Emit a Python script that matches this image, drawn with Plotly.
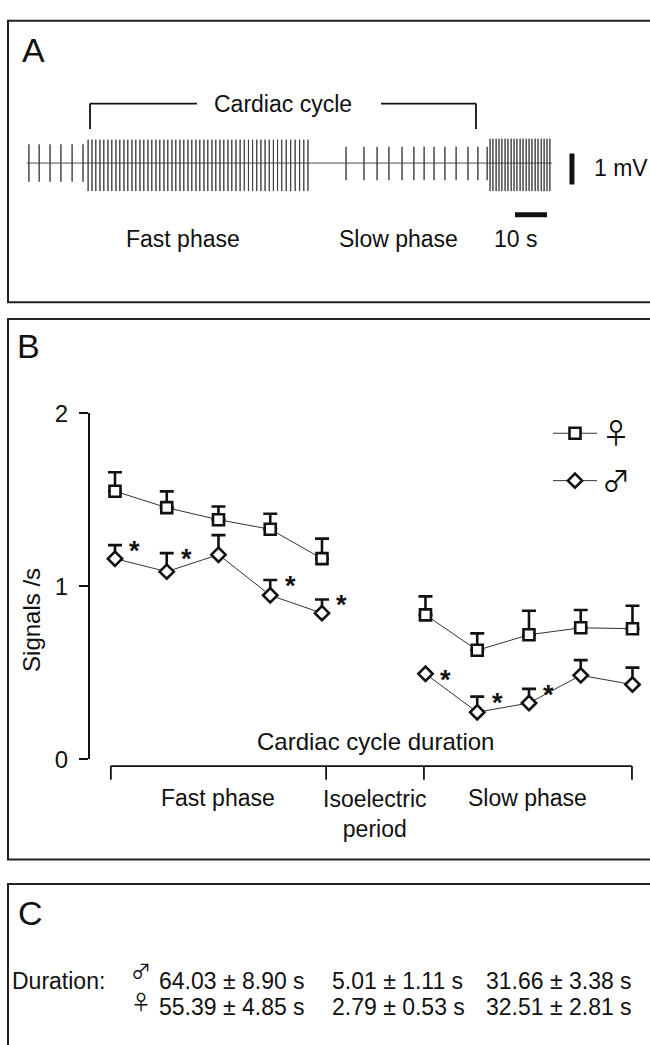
import plotly.graph_objects as go

W, H = 650, 1045
FONT = "Liberation Sans, Arial, Helvetica, sans-serif"
SYM_FONT = "Noto Sans CJK JP, DejaVu Sans"
INK = "#111111"

# ---------------- Panel A: ECG recording (time in s, amplitude in mV) ----------------
pre_beats_t = [0.6, 3.8, 7.2, 10.6, 14.1, 17.5]
fast_beats_t = [19.1, 20.3, 21.5, 22.8, 24.0, 25.3, 26.5, 27.8, 29.0, 30.3, 31.5, 32.8,
                34.0, 35.3, 36.5, 37.8, 39.0, 40.3, 41.5, 42.8, 44.0, 45.3, 46.5, 47.8,
                49.0, 50.3, 51.5, 52.8, 54.0, 55.3, 56.5, 57.8, 59.0, 60.3, 61.5, 62.8,
                64.0, 65.3, 66.6, 67.9, 69.2, 70.5, 71.8, 73.1, 74.4, 75.7, 77.0, 78.3,
                79.6, 81.0, 82.4, 83.8, 85.2, 86.5, 87.8]
slow_beats_t = [99.7, 105.3, 109.4, 113.1, 117.2, 120.9, 124.1, 127.2, 130.6, 134.1,
                137.8, 140.9, 143.8]
next_fast_beats_t = [144.7, 145.6, 146.6, 147.5, 148.4, 149.4, 150.3, 151.3, 152.2, 153.1,
                     154.1, 155.0, 156.0, 156.9, 157.8, 158.8, 159.7, 160.7, 161.6, 162.5,
                     163.4]
segment_peak_mv = [0.60, 0.75, 0.52, 0.78]
segment_trough_mv = [-0.60, -0.90, -0.55, -0.90]
record_end_t = 164.1
cycle_start_t, cycle_end_t = 19.7, 140.3
SCALE_MV = 1.0
SCALE_S = 10.0

# ---------------- Panel B: signals per second ----------------
fast_pos = [0, 1, 2, 3, 4]
slow_pos = [6, 7, 8, 9, 10]
female_fast = [1.55, 1.455, 1.385, 1.33, 1.16]
female_fast_err = [0.11, 0.094, 0.077, 0.09, 0.116]
female_slow = [0.835, 0.63, 0.72, 0.76, 0.755]
female_slow_err = [0.107, 0.098, 0.139, 0.103, 0.133]
male_fast = [1.16, 1.085, 1.183, 0.948, 0.845]
male_fast_err = [0.078, 0.107, 0.113, 0.089, 0.079]
male_slow = [0.494, 0.272, 0.325, 0.485, 0.432]
male_slow_err = [0.0, 0.09, 0.082, 0.088, 0.098]
male_fast_sig = [True, True, False, True, True]
male_slow_sig = [True, True, True, False, False]
phase_names = ["Fast phase", "Isoelectric<br>period", "Slow phase"]
phase_bounds = [-0.08, 4.08, 5.97, 9.99]
y_ticks = [0, 1, 2]

# ---------------- Panel C: durations (s) ----------------
male_dur_mean = [64.03, 5.01, 31.66]
male_dur_sd = [8.90, 1.11, 3.38]
female_dur_mean = [55.39, 2.79, 32.51]
female_dur_sd = [4.85, 0.53, 2.81]


def px(x):
    return x / W


def py(y):
    return 1 - y / H


fig = go.Figure()

# ECG trace
ecg_x, ecg_y = [0.0], [0.0]
for times, up, dn in zip([pre_beats_t, fast_beats_t, slow_beats_t, next_fast_beats_t],
                         segment_peak_mv, segment_trough_mv):
    for t in times:
        ecg_x += [t, t, t, t]
        ecg_y += [0.0, up, dn, 0.0]
ecg_x.append(record_end_t)
ecg_y.append(0.0)
fig.add_trace(go.Scatter(x=ecg_x, y=ecg_y, mode="lines", xaxis="x2", yaxis="y2",
                         line=dict(color="#3a3a3a", width=0.9), showlegend=False,
                         hoverinfo="skip"))


# Panel B traces
def series(xs, ys, errs, symbol, size, name, show):
    return go.Scatter(
        x=xs, y=ys, mode="lines+markers", name=name, legendgroup=name, showlegend=show,
        line=dict(color="#333333", width=1),
        marker=dict(symbol=symbol, size=size, color="white", line=dict(color=INK, width=2.6)),
        error_y=dict(type="data", symmetric=False, array=errs, arrayminus=[0] * len(errs),
                     color=INK, thickness=2.6, width=7),
        cliponaxis=False,
    )


fig.add_trace(series(fast_pos, female_fast, female_fast_err, "square", 11, "♀", True))
fig.add_trace(series(slow_pos, female_slow, female_slow_err, "square", 11, "♀", False))
fig.add_trace(series(fast_pos, male_fast, male_fast_err, "diamond", 11, "♂", True))
fig.add_trace(series(slow_pos, male_slow, male_slow_err, "diamond", 11, "♂", False))

annotations = []


def txt(x, y, text, size=23, xanchor="center", yanchor="middle", xref="paper", yref="paper",
        family=FONT, **kw):
    annotations.append(dict(x=x, y=y, text=text, xref=xref, yref=yref, showarrow=False,
                            xanchor=xanchor, yanchor=yanchor,
                            font=dict(family=family, size=size, color=INK), **kw))


# significance asterisks
for xs, ys, errs, sig in [(fast_pos, male_fast, male_fast_err, male_fast_sig),
                          (slow_pos, male_slow, male_slow_err, male_slow_sig)]:
    for x, y, e, s in zip(xs, ys, errs, sig):
        if s:
            txt(x, y + e, "<b>*</b>", size=27, xref="x", yref="y", xshift=20, yshift=-6)

# Panel letters
txt(px(20), py(37), "A", size=34, xanchor="left")
txt(px(15), py(341), "B", size=34, xanchor="left")
txt(px(16), py(923), "C", size=34, xanchor="left")

# Panel A labels
txt((cycle_start_t + cycle_end_t) / 2, py(92), "Cardiac cycle", xref="x2")
txt(px(183), py(231), "Fast phase")
txt(px(398), py(231), "Slow phase")
txt(record_end_t - 12.5 + 0.9, py(231), f"{SCALE_S:g} s", xref="x2")
txt(px(592), py(158), f"{SCALE_MV:g} mV", xanchor="left")

# Panel B labels
txt(px(32), py(622), "Signals /s", size=24, textangle=-90)
txt((phase_bounds[1] + phase_bounds[2]) / 2, py(747), "Cardiac cycle duration", size=24,
    xref="x")
for i, name in enumerate(phase_names):
    txt((phase_bounds[i] + phase_bounds[i + 1]) / 2, py(805), name, size=23, xref="x",
        yanchor="top" if "<br>" in name else "middle",
        **({"yshift": 14} if "<br>" in name else {}))

# Panel C text
ROW1, ROW2 = 993, 1019
txt(px(10), py(ROW1), "Duration:", size=23, xanchor="left")
txt(px(141), py(ROW1 - 11), "♂", size=20, family=SYM_FONT)
txt(px(141), py(ROW2 - 5), "♀", size=20, family=SYM_FONT)
col_left = [157, 330, 484]
for i in range(3):
    txt(px(col_left[i]), py(ROW1), f"{male_dur_mean[i]:.2f} ± {male_dur_sd[i]:.2f} s",
        size=23, xanchor="left")
    txt(px(col_left[i]), py(ROW2), f"{female_dur_mean[i]:.2f} ± {female_dur_sd[i]:.2f} s",
        size=23, xanchor="left")

shapes = []
BOX = dict(color="#222222", width=2)
for top, bottom in [(7, 296), (313, 868), (893, 1060)]:
    shapes.append(dict(type="rect", xref="paper", yref="paper", x0=px(8), x1=px(670),
                       y0=py(bottom), y1=py(top), line=BOX, layer="below"))

# Cardiac cycle bracket (panel A)
BR = dict(color=INK, width=1.8)
shapes += [
    dict(type="line", xref="x2", yref="paper", x0=cycle_start_t, x1=cycle_start_t,
         y0=py(118), y1=py(92), line=BR),
    dict(type="line", xref="x2", yref="paper", x0=cycle_start_t, x1=53.1,
         y0=py(92), y1=py(92), line=BR),
    dict(type="line", xref="x2", yref="paper", x0=110.6, x1=cycle_end_t,
         y0=py(92), y1=py(92), line=BR),
    dict(type="line", xref="x2", yref="paper", x0=cycle_end_t, x1=cycle_end_t,
         y0=py(118), y1=py(92), line=BR),
]
# scale bars
bar_t = record_end_t + 6.2
shapes.append(dict(type="line", xref="x2", yref="y2", x0=bar_t, x1=bar_t,
                   y0=-0.69, y1=-0.69 + SCALE_MV, line=dict(color=INK, width=5)))
shapes.append(dict(type="line", xref="x2", yref="y2", x0=record_end_t - 11.6,
                   x1=record_end_t - 11.6 + SCALE_S, y0=-1.656, y1=-1.656,
                   line=dict(color=INK, width=5)))

# Phase bracket (panel B)
shapes.append(dict(type="line", xref="x", yref="paper", x0=phase_bounds[0],
                   x1=phase_bounds[-1], y0=py(772), y1=py(772), line=BR))
for b in phase_bounds:
    shapes.append(dict(type="line", xref="x", yref="paper", x0=b, x1=b,
                       y0=py(786), y1=py(772), line=BR))

fig.update_layout(
    width=W, height=H, autosize=False,
    margin=dict(l=0, r=0, t=0, b=0),
    paper_bgcolor="white", plot_bgcolor="white",
    font=dict(family=FONT, size=22, color=INK),
    xaxis=dict(domain=[px(90), px(645)], range=[-0.483, 10.242], visible=False),
    yaxis=dict(domain=[py(765), py(410)], range=[0, 2], tickvals=y_ticks,
               showline=True, linecolor=INK, linewidth=2, ticks="outside", ticklen=9,
               tickwidth=2, tickcolor=INK, showgrid=False, zeroline=False,
               tickfont=dict(size=24, family=FONT, color=INK), ticklabelstandoff=6),
    xaxis2=dict(domain=[px(27), px(600)], range=[0, 573 / 3.2], visible=False,
                anchor="y2"),
    yaxis2=dict(domain=[py(215), py(110)], range=[-62 / 32, 43 / 32], visible=False,
                anchor="x2"),
    showlegend=True,
    legend=dict(x=px(548), y=py(405), xanchor="left", yanchor="top",
                font=dict(size=28, color=INK, family=SYM_FONT), bgcolor="rgba(0,0,0,0)",
                tracegroupgap=8, itemwidth=44),
    shapes=shapes,
    annotations=annotations,
)

fig.write_html("out.html")
